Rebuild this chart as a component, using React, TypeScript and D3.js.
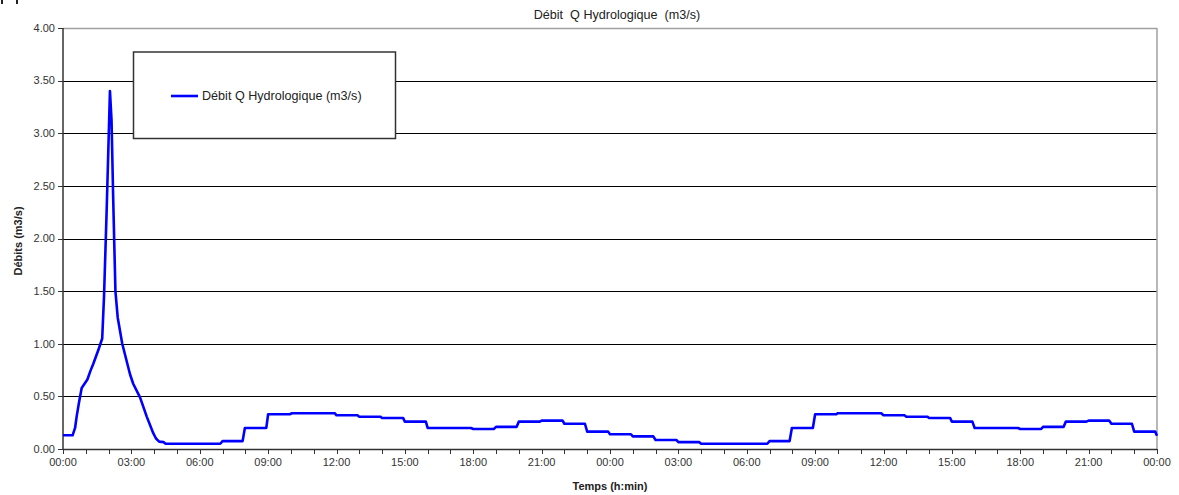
import React from "react";
import * as d3 from "d3";

// Time in hours since start (0..48) and flow values (m3/s)
const timeHours: number[] = [
  0, 0.42, 0.53, 0.6, 0.7, 0.82, 1.07, 1.2, 1.33, 1.55, 1.72, 1.8, 1.92, 2.06, 2.13, 2.2, 2.3, 2.4, 2.6,
  2.94, 3.08, 3.38, 3.67, 3.96, 4.08, 4.22, 4.42, 4.5, 6.9, 7.0, 7.88, 7.98, 8.92, 9.0,
  9.95, 10.05, 11.92, 12.0, 12.92, 13.0, 13.92, 14.0, 14.92, 15.0, 15.92, 16.0, 17.9, 18.0,
  18.9, 19.0, 19.9, 20.0, 20.92, 21.0, 21.92, 22.0, 22.9, 23.0, 23.92, 24.0, 24.92, 25.0,
  25.9, 26.0, 26.92, 27.0, 27.92, 28.0, 30.9, 31.0, 31.88, 31.98, 32.9, 33.0,
  33.92, 34.0, 35.9, 36.0, 36.92, 37.0, 37.92, 38.0, 38.92, 39.0, 39.9, 40.0, 41.9, 42.0,
  42.92, 43.0, 43.9, 44.0, 44.9, 45.0, 45.9, 46.0, 46.9, 47.0, 47.92, 48.0,
];
const flowValues: number[] = [
  0.13, 0.13, 0.2, 0.31, 0.44, 0.58, 0.66, 0.74, 0.81, 0.94, 1.05, 1.45, 2.3, 3.4, 3.12, 2.4, 1.5, 1.25, 1.0,
  0.71, 0.62, 0.49, 0.31, 0.15, 0.1, 0.07, 0.065, 0.05, 0.05, 0.075, 0.075, 0.2, 0.2, 0.33,
  0.33, 0.34, 0.34, 0.32, 0.32, 0.307, 0.307, 0.295, 0.295, 0.26, 0.26, 0.2, 0.2, 0.19,
  0.19, 0.21, 0.21, 0.26, 0.26, 0.27, 0.27, 0.24, 0.24, 0.165, 0.165, 0.14, 0.14, 0.12,
  0.12, 0.085, 0.085, 0.065, 0.065, 0.05, 0.05, 0.075, 0.075, 0.2, 0.2, 0.33,
  0.33, 0.34, 0.34, 0.32, 0.32, 0.307, 0.307, 0.295, 0.295, 0.26, 0.26, 0.2, 0.2, 0.19,
  0.19, 0.21, 0.21, 0.26, 0.26, 0.27, 0.27, 0.24, 0.24, 0.165, 0.165, 0.125,
];
const yTicks: number[] = [0, 0.5, 1, 1.5, 2, 2.5, 3, 3.5, 4];
const xTickLabels: string[] = [
  "00:00", "03:00", "06:00", "09:00", "12:00", "15:00", "18:00", "21:00",
  "00:00", "03:00", "06:00", "09:00", "12:00", "15:00", "18:00", "21:00", "00:00",
];
const seriesName = "Débit Q Hydrologique (m3/s)";
const chartTitle = "Débit  Q Hydrologique  (m3/s)";

const W = 1179;
const H = 495;
const L = 63, R = 1157, T = 28, B = 449;
const FONT = "'Liberation Sans', Arial, sans-serif";

export default function App() {
  const x = d3.scaleLinear().domain([0, 48]).range([L, R]);
  const y = d3.scaleLinear().domain([0, 4]).range([B, T]);
  const data = timeHours.map((t, i) => [t, flowValues[i]] as [number, number]);
  const line = d3.line<[number, number]>().x((d) => x(d[0])).y((d) => y(d[1]));
  const hourTicks = d3.range(0, 49);

  return (
    <div style={{ position: "fixed", left: 0, top: 0 }}>
      <svg width={W} height={H} style={{ display: "block", background: "#fff" }} fontFamily={FONT}>
        {/* small corner marks */}
        <rect x={1} y={0} width={2} height={4} fill="#222" />
        <rect x={16} y={0} width={2} height={4} fill="#222" />

        {/* title */}
        <text x={617} y={19} textAnchor="middle" fontSize={12.6} fill="#222" style={{ whiteSpace: "pre" }}>
          {chartTitle}
        </text>

        {/* gridlines */}
        {yTicks.filter((v) => v > 0 && v < 4).map((v) => (
          <line key={"g" + v} x1={L} x2={R} y1={Math.round(y(v)) + 0.5} y2={Math.round(y(v)) + 0.5} stroke="#000" strokeWidth={1} />
        ))}
        {/* plot top & right border */}
        <line x1={L} x2={R} y1={T + 0.5} y2={T + 0.5} stroke="#a0a0a0" strokeWidth={1.5} />
        <line x1={R} x2={R} y1={T} y2={B} stroke="#a0a0a0" strokeWidth={1.5} />

        {/* y axis */}
        <line x1={L} x2={L} y1={T} y2={B} stroke="#333" strokeWidth={1.5} />
        {yTicks.map((v) => (
          <g key={"y" + v}>
            <line x1={L - 5} x2={L} y1={Math.round(y(v)) + 0.5} y2={Math.round(y(v)) + 0.5} stroke="#333" strokeWidth={1} />
            <text x={55} y={y(v)} dy="0.35em" textAnchor="end" fontSize={11} fill="#333">
              {v.toFixed(2)}
            </text>
          </g>
        ))}

        {/* x axis */}
        <line x1={L} x2={R} y1={B + 0.5} y2={B + 0.5} stroke="#333" strokeWidth={1.5} />
        {hourTicks.map((h) => (
          <line key={"xt" + h} x1={Math.round(x(h)) + 0.5} x2={Math.round(x(h)) + 0.5} y1={B} y2={B + 5} stroke="#333" strokeWidth={1} />
        ))}
        {xTickLabels.map((lab, i) => (
          <text key={"xl" + i} x={x(i * 3)} y={466} textAnchor="middle" fontSize={11} fill="#333">
            {lab}
          </text>
        ))}

        {/* axis titles */}
        <text x={610} y={490} textAnchor="middle" fontSize={11} fontWeight="bold" fill="#222">
          Temps (h:min)
        </text>
        <text transform={`translate(22,${241}) rotate(-90)`} textAnchor="middle" fontSize={11} fontWeight="bold" fill="#222">
          Débits (m3/s)
        </text>

        {/* series */}
        <path d={line(data) || ""} fill="none" stroke="#0000ff" strokeWidth={2.6} strokeLinejoin="round" />

        {/* legend */}
        <rect x={133.5} y={52} width={262} height={86.5} fill="#fff" stroke="#333" strokeWidth={1.5} />
        <line x1={171} x2={198} y1={96} y2={96} stroke="#0000ff" strokeWidth={2.6} />
        <text x={202} y={96} dy="0.35em" fontSize={12.6} fill="#222">
          {seriesName}
        </text>
      </svg>
    </div>
  );
}
